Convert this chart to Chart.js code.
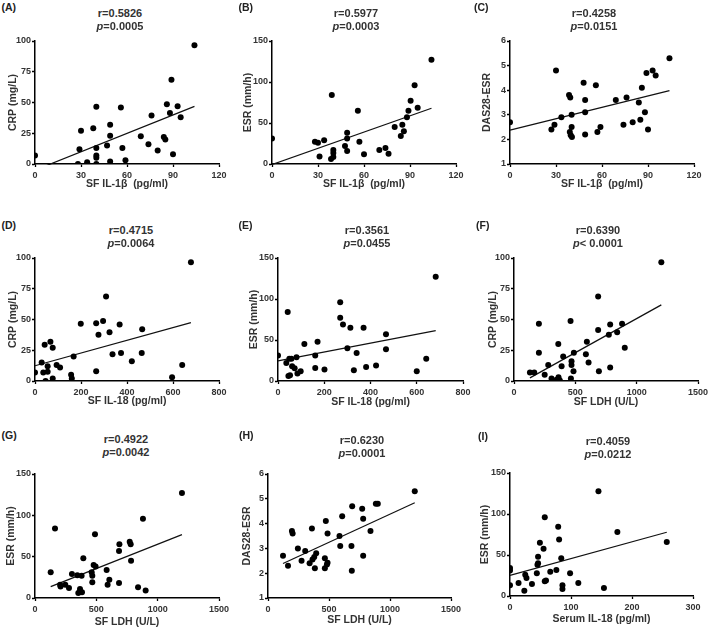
<!DOCTYPE html>
<html><head><meta charset="utf-8">
<script src="https://cdn.jsdelivr.net/npm/chart.js@4/dist/chart.umd.min.js"></script>
<style>
body{margin:0;width:709px;height:628px;background:#fff;position:relative;overflow:hidden;font-family:"Liberation Sans",Arial,sans-serif;}
.pl{position:absolute;font-weight:bold;font-size:10.5px;color:#222;line-height:11px;transform:translateY(-50%);}
.tt{position:absolute;font-weight:bold;font-size:11px;color:#333;line-height:11px;white-space:nowrap;transform:translate(-50%,-50%);}
canvas{position:absolute;}
</style></head><body>
<script>
// ---- data ----
const aX = [0,28,29,30,34,38,40,40,40,40,40,47,49,49,49,56,57,59,69,74,76,80,84,85,86,88,89,90,93,95,104];
const aY = [7,0,12,27,1.5,29,46.5,13,7,5,0,15,32,23,2,46,13,3,22.5,16,39.5,11,22,20,48.5,41.5,68.5,8,47,38,96.5];
const bX = [0,28,30,31,34,39,38.5,40,40,40,47.6,49,49,49,56,57,60,70,74,76,80,84,85,86,88,89,90.4,93,95,104];
const bY = [31,27,26,9,29,84,6,8.5,13.5,17,22,38,31,16,65,27,12,17,19.5,12.6,45,34,48,40,57,65,77,96,68.5,127];
const cX = [0,27,29,30,33.5,38.5,39.3,39,39.6,40.2,40.2,40.4,48,49,49,49,56,57,59,69,74,76,80,84,85,86,88,89,90,93,95,104];
const cY = [2.7,2.4,2.6,4.8,2.9,3.8,3.7,2.3,2.17,3.0,2.5,2.1,4.3,3.6,3.1,2.2,4.2,2.3,2.5,3.6,2.6,3.7,2.7,3.5,2.8,4.1,3.1,4.7,2.4,4.8,4.6,5.3];
const dX = [0,29,42,36,46,55,55,67,77,77,94,109,157,160,168,199,266,266,276,296,309,324,337,368,374,421,466,464,596,640,678];
const dY = [7,15,29.5,7,0,7.6,12,32,2,27,13,11,5,2,20,46.6,47,8,37.7,48.8,68.6,39.6,21.7,46,22.8,16,42,22.8,3,13,96.5];
const eX = [0,36,42,49,58,45,52,61,72,80,84,98,114,161,161,171,201,269,269,281,300,313,328,340,370,381,424,467,467,600,641,682];
const eY = [31,22,84,27,27,6,7,18,15.5,29,9,12,45,31,16,48,14,96,77,69,40,65,13,34,65,17,19,57,38.6,12,27,127];
const fX = [130,165,203,203,250,279,306,347,361,363,374,388,401,461,464,469,469,488,485,586,594,608,686,686,692,773,784,784,841,881,903,1201];
const fY = [7,7,46.5,23,5,13,2,1,30,3,0.5,12,20,48.8,2,16,13,23,8,21.7,32,15,68.6,41.5,8,37.7,46,11,39.6,46.6,27,96.5];
const gX = [128,163,205,208,247,277,301,345,353,367,367,383,380,394,462,467,467,478,489,494,584,592,606,685,688,685,772,780,783,840,880,902,1198];
const gY = [31,84,16,14,16,12,29,27.6,6,11,8,7,27,48,31,27,19,40,77,38,34,16,22,57,65,18,68,65,45,13,96,9,127];
const hX = [123,164,196,202,245,275,305,341,360,365,379,384,395,466,466,474,483,488,488,586,592,608,684,687,690,772,780,780,840,884,900,1203];
const hY = [2.7,2.3,3.7,3.6,3.0,2.5,2.9,2.4,3.8,2.55,2.65,2.2,2.8,2.6,2.2,4.1,2.35,2.42,3.6,3.5,3.1,4.3,3.1,2.1,4.7,4.6,4.2,2.7,3.7,4.8,4.8,5.3];
const iX = [0,0,0,14,23.5,25,27,36,44,45,46,46,49,55,57,57,59,66,76,79,80.5,84,86,86,98.5,112,145,154,176,257];
const iY = [34,31,13,16,6.5,26,22,14.6,27.6,38,40,48,65,57.7,96,18,19,29.7,31.7,84.5,69,46,13,8.5,27.6,16,127.6,9.8,78,65.8];

const panelLabels = ['(A)','(B)','(C)','(D)','(E)','(F)','(G)','(H)','(I)'];
const rTexts = ['r=0.5826','r=0.5977','r=0.4258','r=0.4715','r=0.3561','r=0.6390','r=0.4922','r=0.6230','r=0.4059'];
const pTexts = ['=0.0005','=0.0003','=0.0151','=0.0064','=0.0455','< 0.0001','=0.0042','=0.0001','=0.0212'];
const xTitles = ['SF IL-1\u03B2  (pg/ml)','SF IL-1\u03B2  (pg/ml)','SF IL-1\u03B2  (pg/ml)','SF IL-18 (pg/ml)','SF IL-18 (pg/ml)','SF LDH (U/L)','SF LDH (U/L)','SF LDH (U/L)','Serum IL-18 (pg/ml)'];
const yTitles = ['CRP (mg/L)','ESR (mm/h)','DAS28-ESR','CRP (mg/L)','ESR (mm/h)','CRP (mg/L)','ESR (mm/h)','DAS28-ESR','ESR (mm/h)'];
const xRanges = [[0,120,30],[0,120,30],[0,120,30],[0,800,200],[0,800,200],[0,1500,500],[0,1500,500],[0,1500,500],[0,300,100]];
const yRanges = [[0,100,25],[0,150,50],[1,6,1],[0,100,25],[0,150,50],[0,100,25],[0,150,50],[1,6,1],[0,150,50]];
const seriesX = [aX,bX,cX,dX,eX,fX,gX,hX,iX];
const seriesY = [aY,bY,cY,dY,eY,fY,gY,hY,iY];

// ---- layout (pixel placement of each panel) ----
const boxes = [[35,41,219,164],[272,41,456,164],[510,41,694,164],
               [35,258,219,381],[277.5,258,462,381],[514,258,698,381],
               [35,474,219,598],[268,474,451,598],[509.5,473,692,596]];
const yTitleOff = [22,24,23,22,24,21,24,21,25];
const xTitleOff = [20,20,20,20,21,21,24,22,23];
const labelPos = [[1.5,7],[238.5,7],[474,7],[1.5,225],[238.5,225],[476,225],[1.5,435],[239,435],[478,436]];
const titlePos = [[120,13,26],[356,13,26],[594,13,26],[131,230,243],[367,230,243],[598,230,243],[126,439,452],[362,439.5,452.5],[608,441,454]];

Chart.defaults.font.family = "'Liberation Sans', Arial, sans-serif";

function fit(xs, ys){
  const n = xs.length;
  let sx=0, sy=0; for(let i=0;i<n;i++){sx+=xs[i]; sy+=ys[i];}
  const mx=sx/n, my=sy/n;
  let sxy=0, sxx=0; for(let i=0;i<n;i++){sxy+=(xs[i]-mx)*(ys[i]-my); sxx+=(xs[i]-mx)*(xs[i]-mx);}
  const b=sxy/sxx, a=my-b*mx;
  const x0=Math.min(...xs), x1=Math.max(...xs);
  return [{x:x0,y:a+b*x0},{x:x1,y:a+b*x1}];
}

function addDiv(cls, html, x, y){
  const d=document.createElement('div'); d.className=cls; d.innerHTML=html;
  d.style.left=x+'px'; d.style.top=y+'px'; document.body.appendChild(d);
}

const padL=40, padT=10, padR=16, padB=34;
const txtColor='#333';
const tickFont={size:9, weight:'bold'};
const titleFont={size:10.5, weight:'bold', lineHeight:1.1};
const lh = 10.5*1.1;

for(let k=0;k<9;k++){
  const [L,T,R,B]=boxes[k];
  const w=Math.round(R-L+padL+padR), h=Math.round(B-T+padT+padB);
  const cv=document.createElement('canvas');
  cv.width=w; cv.height=h;
  cv.style.left=(L-padL)+'px'; cv.style.top=(T-padT)+'px';
  cv.style.width=w+'px'; cv.style.height=h+'px';
  document.body.appendChild(cv);
  const pts=seriesX[k].map((v,i)=>({x:v,y:seriesY[k][i]}));
  const xr=xRanges[k], yr=yRanges[k];
  new Chart(cv,{
    type:'scatter',
    data:{datasets:[
      {type:'scatter',data:pts,pointRadius:3,pointHoverRadius:3,backgroundColor:'#000',borderWidth:0},
      {type:'line',data:fit(seriesX[k],seriesY[k]),borderColor:'#111',borderWidth:1.2,pointRadius:0,fill:false,tension:0,clip:1}
    ]},
    options:{
      responsive:false, animation:false, devicePixelRatio:1,
      layout:{padding:{top:padT,right:padR,left:0,bottom:0}},
      plugins:{legend:{display:false},tooltip:{enabled:false},title:{display:false}},
      scales:{
        x:{type:'linear',position:'bottom',min:xr[0],max:xr[1],
           ticks:{stepSize:xr[2],font:tickFont,color:txtColor,padding:3,maxRotation:0,autoSkip:false,callback:v=>String(v)},
           grid:{display:true,drawOnChartArea:false,drawTicks:true,tickLength:3,tickColor:'#000',tickWidth:1.3},
           border:{display:true,color:'#000',width:1.5},
           title:{display:true,text:xTitles[k],font:titleFont,color:txtColor,padding:{top:0,bottom:padB-lh/2-xTitleOff[k]}},
           afterFit:s=>{s.height=padB;}},
        y:{type:'linear',position:'left',min:yr[0],max:yr[1],
           ticks:{stepSize:yr[2],font:tickFont,color:txtColor,padding:1,callback:v=>String(v)},
           grid:{display:true,drawOnChartArea:false,drawTicks:true,tickLength:3,tickColor:'#000',tickWidth:1.3},
           border:{display:true,color:'#000',width:1.5},
           title:{display:true,text:yTitles[k],font:titleFont,color:txtColor,padding:{top:padL-yTitleOff[k]-lh/2,bottom:0}},
           afterFit:s=>{s.width=padL;}}
      }
    }
  });
  addDiv('pl',panelLabels[k],labelPos[k][0],labelPos[k][1]);
  addDiv('tt',rTexts[k],titlePos[k][0],titlePos[k][1]);
  addDiv('tt','<i>p</i>'+pTexts[k],titlePos[k][0],titlePos[k][2]);
}
</script>
</body></html>
